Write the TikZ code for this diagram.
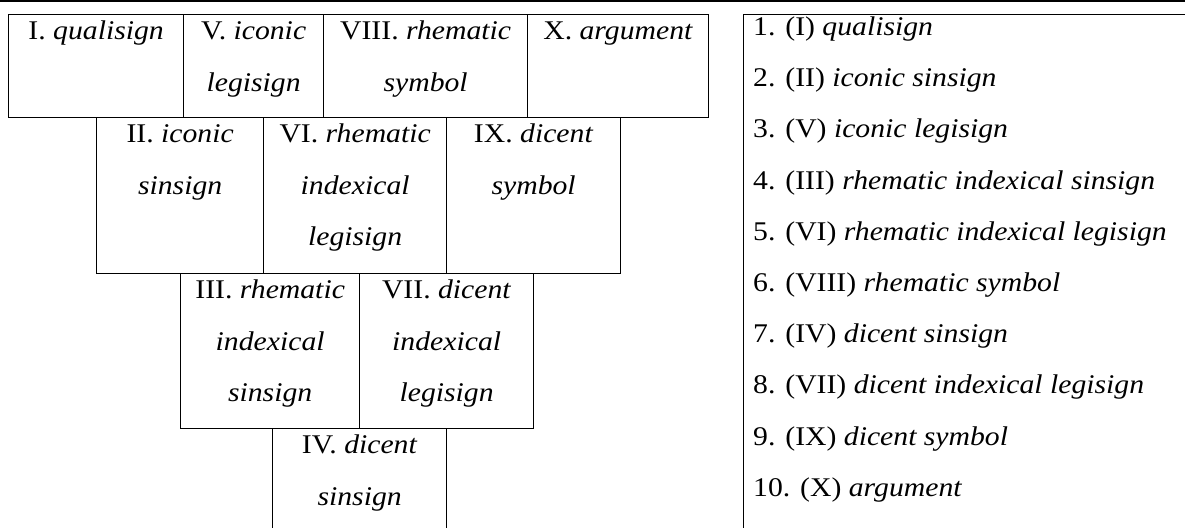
\documentclass[tikz,border=0pt]{standalone}
\usepackage{fontspec}
\setmainfont{Liberation Serif}[FakeStretch=1.1]
\usetikzlibrary{calc}

% One box of the sign table: name, left, top, right, bottom, text lines
\newcommand\signbox[6]{%
  \node[cell, minimum width={#4-#2}, minimum height={#5-#3}] (#1) at (#2,#3) {};
  \node[cellnote] (#1-t) at ($(#1.north)+(0,25.5)$)
    {\begin{tabular}[t]{@{}c@{}}#6\end{tabular}};
}

\begin{document}
\begin{tikzpicture}[x=1pt,y=-1pt,
  cell/.style={draw, line width=1.3pt, rectangle, inner sep=0pt, anchor=north west},
  cellnote/.style={anchor=base, inner sep=0pt, font=\fontsize{27}{51.7}\selectfont},
  listnote/.style={anchor=base west, inner sep=0pt, font=\fontsize{27}{51.2}\selectfont}]

\useasboundingbox (0,0) rectangle (1185,527);
\clip (0,0) rectangle (1185,527);

% heading rule
\coordinate (ruleL) at (0,1);
\coordinate (ruleR) at (1185,1);
\draw[line width=2.2pt] (ruleL) -- (ruleR);

% first row
\signbox{s1}{8}{14}{183}{117}{I. \textit{qualisign}}
\signbox{s5}{183}{14}{323}{117}{V. \textit{iconic}\\ \textit{legisign}}
\signbox{s8}{323}{14}{527}{117}{VIII. \textit{rhematic}\\ \textit{symbol}}
\signbox{s10}{527}{14}{708}{117}{X. \textit{argument}}

% second row
\signbox{s2}{96}{117}{263}{273}{II. \textit{iconic}\\ \textit{sinsign}}
\signbox{s6}{263}{117}{446}{273}{VI. \textit{rhematic}\\ \textit{indexical}\\ \textit{legisign}}
\signbox{s9}{446}{117}{620}{273}{IX. \textit{dicent}\\ \textit{symbol}}

% third row
\signbox{s3}{180}{273}{359}{428}{III. \textit{rhematic}\\ \textit{indexical}\\ \textit{sinsign}}
\signbox{s7}{359}{273}{533}{428}{VII. \textit{dicent}\\ \textit{indexical}\\ \textit{legisign}}

% fourth row
\signbox{s4}{272}{428}{446}{560}{IV. \textit{dicent}\\ \textit{sinsign}}

% numbered list
\node[cell, minimum width=500, minimum height=600] (legend) at (743,14) {};
\node[listnote] (legend-t) at (753,35.5) {\begin{tabular}[t]{@{}l@{}}
1. (I) \textit{qualisign}\\
2. (II) \textit{iconic sinsign}\\
3. (V) \textit{iconic legisign}\\
4. (III) \textit{rhematic indexical sinsign}\\
5. (VI) \textit{rhematic indexical legisign}\\
6. (VIII) \textit{rhematic symbol}\\
7. (IV) \textit{dicent sinsign}\\
8. (VII) \textit{dicent indexical legisign}\\
9. (IX) \textit{dicent symbol}\\
10. (X) \textit{argument}
\end{tabular}};

\end{tikzpicture}
\end{document}
